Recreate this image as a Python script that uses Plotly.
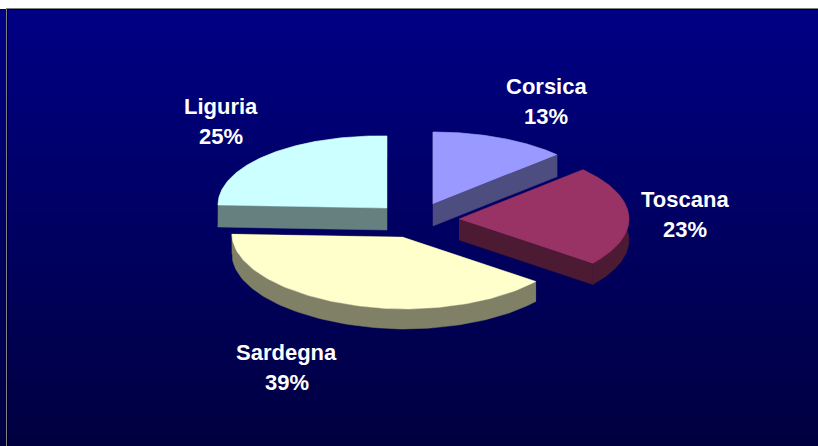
import numpy as np
import plotly.graph_objects as go

# Data
labels = ["Corsica", "Toscana", "Sardegna", "Liguria"]
shares = [13.0, 22.6, 39.4, 25.0]

# Styles and layout
top_colors = ["#9999FF", "#993366", "#FFFFCC", "#CCFFFF"]
side_colors = ["#4D4D80", "#4D1A33", "#808066", "#668080"]
apex_x = [433, 459, 402, 387]
apex_y = [204, 219, 237, 208]
label_x = [546, 684.5, 286.5, 221]
label_y = [86, 199, 352, 106]
depths = [22, 21, 20, 22]
radii_x = [170, 170, 170, 169]
RY = 72
W, H = 818, 446
draw_order = [0, 3, 1, 2]

fig = go.Figure()

# Gradient backdrop
ys = np.arange(10, H + 1, 2)
fig.add_trace(go.Heatmap(
    x=[8, W], y=ys, z=[[v, v] for v in ys],
    colorscale=[[0, "#000084"], [1, "#000040"]], showscale=False,
    hoverinfo="skip", zsmooth="best",
))

edges = np.cumsum([0] + shares) / sum(shares) * 2 * np.pi


def project(i, theta):
    rx = radii_x[i]
    dx = rx * np.sin(theta)
    dy = -RY * np.cos(theta)
    # slight perspective lift on the left-hand side of the pie
    lift = 3 / rx * np.minimum(dx, 0)
    return apex_x[i] + dx, apex_y[i] + dy + lift


def poly(xs, ys_, color):
    fig.add_trace(go.Scatter(
        x=xs, y=ys_, mode="lines", fill="toself", fillcolor=color,
        line=dict(width=0.5, color=color), hoverinfo="skip", showlegend=False,
    ))


for i in draw_order:
    th = np.linspace(edges[i], edges[i + 1], 90)
    ax, ay = project(i, th)
    d = depths[i]
    # walls
    poly(np.r_[ax, ax[::-1]], np.r_[ay, ay[::-1] + d], side_colors[i])
    for k in (0, -1):
        wx = [apex_x[i], ax[k], ax[k], apex_x[i]]
        wy = [apex_y[i], ay[k], ay[k] + d, apex_y[i] + d]
        poly(wx, wy, side_colors[i])
    # top face
    poly(np.r_[apex_x[i], ax], np.r_[apex_y[i], ay], top_colors[i])

for name, share, lx, ly in zip(labels, shares, label_x, label_y):
    for txt, yy in ((name, ly), (f"{round(share)}%", ly + 30)):
        fig.add_annotation(
            x=lx, y=yy, text=txt, showarrow=False,
            font=dict(family="Liberation Sans", size=22, color="white", weight="bold"),
            xanchor="center", yanchor="middle",
        )

# Frame: a grey outer line and a black inner line
fig.add_shape(type="line", x0=6.5, x1=6.5, y0=8, y1=H, line=dict(color="#808080", width=1))
fig.add_shape(type="line", x0=6, x1=W, y0=8.5, y1=8.5, line=dict(color="#808080", width=1))
fig.add_shape(type="line", x0=7.5, x1=7.5, y0=9, y1=H, line=dict(color="#000000", width=1))
fig.add_shape(type="line", x0=7, x1=W, y0=9.5, y1=9.5, line=dict(color="#000000", width=1))

fig.update_layout(
    width=W, height=H, margin=dict(l=0, r=0, t=0, b=0),
    paper_bgcolor="white", plot_bgcolor="white", showlegend=False,
    xaxis=dict(range=[0, W], visible=False, fixedrange=True),
    yaxis=dict(range=[H, 0], visible=False, fixedrange=True),
)
fig.write_html(
    "out.html",
    config={"displayModeBar": False},
    post_script="document.body.style.margin='0';document.body.style.overflow='hidden';",
)
